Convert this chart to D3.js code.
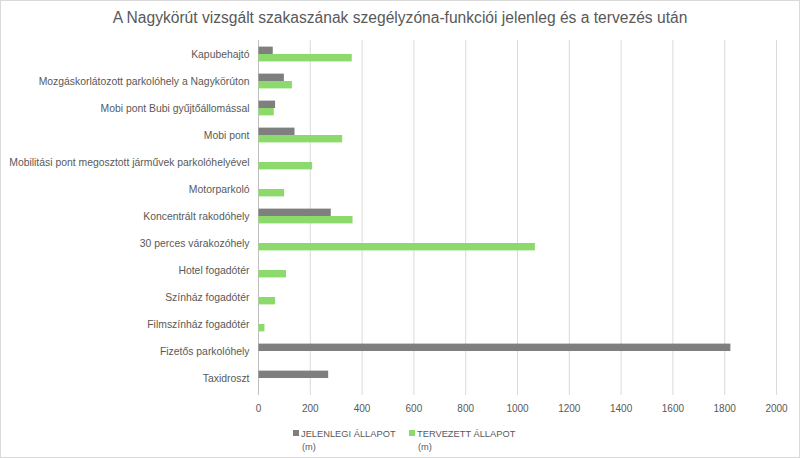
<!DOCTYPE html>
<html>
<head>
<meta charset="utf-8">
<script src="https://cdn.jsdelivr.net/npm/d3@7"></script>
<style>
  body { margin: 0; background: #fff; }
  text { font-family: "Liberation Sans", Arial, sans-serif; fill: #595959; }
</style>
</head>
<body>
<script>
const width = 800
const height = 458

/* Chart data. */
const categories = [
  "Kapubehajtó",
  "Mozgáskorlátozott parkolóhely a Nagykörúton",
  "Mobi pont Bubi gyűjtőállomással",
  "Mobi pont",
  "Mobilitási pont megosztott járművek parkolóhelyével",
  "Motorparkoló",
  "Koncentrált rakodóhely",
  "30 perces várakozóhely",
  "Hotel fogadótér",
  "Színház fogadótér",
  "Filmszínház fogadótér",
  "Fizetős parkolóhely",
  "Taxidroszt"
]
const current = [55, 98, 64, 139, 0, 0, 279, 0, 0, 0, 0, 1822, 269]
const planned = [360, 129, 59, 323, 207, 99, 363, 1067, 106, 64, 23, 0, 0]
const xTicks = [0, 200, 400, 600, 800, 1000, 1200, 1400, 1600, 1800, 2000]
const seriesNames = ["JELENLEGI ÁLLAPOT", "TERVEZETT ÁLLAPOT"]
const seriesUnit = "(m)"
const colors = ["#7f7f7f", "#8cd96c"]

const margin = {top: 41, left: 258.5, right: 23.5, bottom: 66}

/* Create svg-element. */
const svg = d3.select("body")
  .append("svg")
  .attr("width", width)
  .attr("height", height)

/* Frame around the whole chart. */
svg.append("rect")
  .attr("x", 0.5).attr("y", 0.5)
  .attr("width", width - 1).attr("height", height - 1)
  .attr("fill", "#fff")
  .attr("stroke", "#d9d9d9")

/* Title. */
svg.append("text")
  .attr("x", width / 2)
  .attr("y", 23)
  .attr("text-anchor", "middle")
  .style("font-size", "15.6px")
  .text("A Nagykörút vizsgált szakaszának szegélyzóna-funkciói jelenleg és a tervezés után")

/* Scales. */
const x = d3.scaleLinear()
  .domain([0, 2000])
  .range([margin.left, width - margin.right])

const y = d3.scaleBand()
  .domain(categories)
  .range([margin.top, height - margin.bottom])

const sub = d3.scaleBand()
  .domain([0, 1])
  .range([y.bandwidth() / 2 - 7.4, y.bandwidth() / 2 + 7.4])

/* Gridlines with ticks below the axis. */
svg.append("g")
  .selectAll("line")
  .data(xTicks)
  .join("line")
  .attr("x1", d => x(d)).attr("x2", d => x(d))
  .attr("y1", margin.top - 1)
  .attr("y2", height - margin.bottom + 3)
  .attr("stroke", d => d === 0 ? "#bfbfbf" : "#d9d9d9")
  .attr("stroke-width", 1)

/* Tick labels. */
svg.append("g")
  .selectAll("text")
  .data(xTicks)
  .join("text")
  .attr("x", d => x(d))
  .attr("y", height - margin.bottom + 20)
  .attr("text-anchor", "middle")
  .style("font-size", "10px")
  .text(d => d)

/* Category labels. */
svg.append("g")
  .selectAll("text")
  .data(categories)
  .join("text")
  .attr("x", margin.left - 9)
  .attr("y", d => y(d) + y.bandwidth() / 2)
  .attr("dy", "0.35em")
  .attr("text-anchor", "end")
  .style("font-size", "10.4px")
  .text(d => d)

/* Bars. */
const series = [current, planned]
series.forEach((vals, s) => {
  svg.append("g")
    .selectAll("rect")
    .data(vals.map((v, i) => ({cat: categories[i], v})).filter(d => d.v > 0))
    .join("rect")
    .attr("x", x(0))
    .attr("y", d => y(d.cat) + sub(s) - 0.5)
    .attr("width", d => x(d.v) - x(0))
    .attr("height", sub.bandwidth())
    .attr("fill", colors[s])
})

/* Legend. */
const legend = svg.append("g")
const legendX = [293, 409]
seriesNames.forEach((name, s) => {
  const g = legend.append("g").attr("transform", `translate(${legendX[s]},0)`)
  g.append("rect")
    .attr("x", 0).attr("y", 430)
    .attr("width", 6).attr("height", 6)
    .attr("fill", colors[s])
  g.append("text")
    .attr("x", 8).attr("y", 437)
    .style("font-size", "9.3px")
    .text(name)
  g.append("text")
    .attr("x", 9).attr("y", 450)
    .style("font-size", "9.3px")
    .text(seriesUnit)
})
</script>
</body>
</html>
